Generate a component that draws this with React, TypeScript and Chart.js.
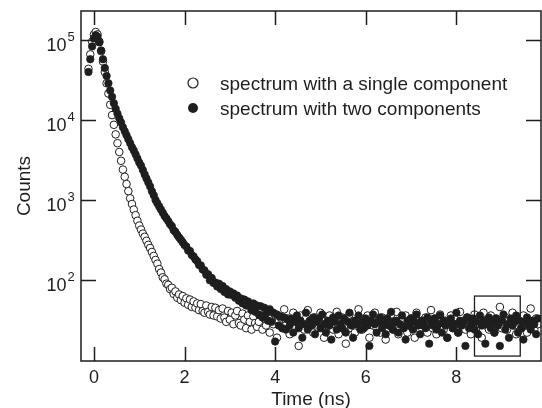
import React, { useEffect, useRef } from "react";
import { Chart, registerables } from "chart.js";

Chart.register(...registerables);

// ---- data ----
const TIME_NS = [
  -0.12, -0.08, -0.04, 0, 0.04, 0.08, 0.12, 0.16, 0.2, 0.24,
  0.28, 0.32, 0.36, 0.4, 0.44, 0.48, 0.52, 0.56, 0.6, 0.64,
  0.68, 0.72, 0.76, 0.8, 0.84, 0.88, 0.92, 0.96, 1, 1.04,
  1.08, 1.12, 1.16, 1.2, 1.24, 1.28, 1.32, 1.36, 1.4, 1.44,
  1.48, 1.52, 1.56, 1.6, 1.64, 1.68, 1.72, 1.76, 1.8, 1.84,
  1.88, 1.92, 1.96, 2, 2.04, 2.08, 2.12, 2.16, 2.2, 2.24,
  2.28, 2.32, 2.36, 2.4, 2.44, 2.48, 2.52, 2.56, 2.6, 2.64,
  2.68, 2.72, 2.76, 2.8, 2.84, 2.88, 2.92, 2.96, 3, 3.04,
  3.08, 3.12, 3.16, 3.2, 3.24, 3.28, 3.32, 3.36, 3.4, 3.44,
  3.48, 3.52, 3.56, 3.6, 3.64, 3.68, 3.72, 3.76, 3.8, 3.84,
  3.88, 3.92, 3.96, 4, 4.04, 4.08, 4.12, 4.16, 4.2, 4.24,
  4.28, 4.32, 4.36, 4.4, 4.44, 4.48, 4.52, 4.56, 4.6, 4.64,
  4.68, 4.72, 4.76, 4.8, 4.84, 4.88, 4.92, 4.96, 5, 5.04,
  5.08, 5.12, 5.16, 5.2, 5.24, 5.28, 5.32, 5.36, 5.4, 5.44,
  5.48, 5.52, 5.56, 5.6, 5.64, 5.68, 5.72, 5.76, 5.8, 5.84,
  5.88, 5.92, 5.96, 6, 6.04, 6.08, 6.12, 6.16, 6.2, 6.24,
  6.28, 6.32, 6.36, 6.4, 6.44, 6.48, 6.52, 6.56, 6.6, 6.64,
  6.68, 6.72, 6.76, 6.8, 6.84, 6.88, 6.92, 6.96, 7, 7.04,
  7.08, 7.12, 7.16, 7.2, 7.24, 7.28, 7.32, 7.36, 7.4, 7.44,
  7.48, 7.52, 7.56, 7.6, 7.64, 7.68, 7.72, 7.76, 7.8, 7.84,
  7.88, 7.92, 7.96, 8, 8.04, 8.08, 8.12, 8.16, 8.2, 8.24,
  8.28, 8.32, 8.36, 8.4, 8.44, 8.48, 8.52, 8.56, 8.6, 8.64,
  8.68, 8.72, 8.76, 8.8, 8.84, 8.88, 8.92, 8.96, 9, 9.04,
  9.08, 9.12, 9.16, 9.2, 9.24, 9.28, 9.32, 9.36, 9.4, 9.44,
  9.48, 9.52, 9.56, 9.6, 9.64, 9.68, 9.72, 9.76, 9.8,
];

const SINGLE_COMPONENT = [
  43600, 66100, 95500, 117500, 125900, 117500, 95500, 72400, 53700, 39800,
  28800, 21400, 15500, 11500, 8710, 6610, 5130, 3980, 3090, 2400,
  1950, 1585, 1290, 1050, 891, 759, 646, 550, 479, 427,
  380, 347, 309, 275, 251, 224, 200, 178, 160, 137,
  124, 108, 102, 90, 87, 77, 80, 67, 72, 60,
  66, 56, 63, 52, 59, 49, 57, 46, 54, 45,
  51, 42, 50, 41, 39, 48, 40, 37, 46, 36,
  45, 35, 42, 33, 44, 34, 30, 41, 32, 39,
  28, 36, 41, 29, 27, 38, 32, 25, 36, 30,
  24, 35, 29, 26,
  30, 36, 24, 33, 27, 40, 22, 31, 28, 37,
  19, 30, 34, 25, 43, 27, 33, 21, 31, 39,
  25, 30, 15, 36, 28, 24, 33, 42, 27, 31,
  22, 34, 28, 25, 39, 30, 19, 33, 27, 36,
  31, 24, 28, 40, 21, 30, 34, 27, 16, 33,
  37, 25, 30, 22, 31, 43, 27, 24, 33, 28,
  36, 19, 30, 27, 39, 25, 31, 22, 34, 28,
  18, 33, 27, 37, 24, 30, 40, 21, 28, 31,
  25, 36, 22, 30, 33, 27, 19, 39, 28, 24,
  31, 27, 34, 22, 30, 42, 25, 33, 21, 28,
  37, 27, 24, 31, 19, 30, 36, 25, 33, 28,
  22, 40, 27, 31, 24, 34, 28, 21, 30, 37,
  25, 33, 28, 19, 39, 27, 31, 24, 36, 30,
  22, 33, 27, 46, 25, 30, 34, 24, 31, 28,
  39, 27, 21, 33, 30, 25, 36, 28, 22, 31,
  44, 27, 24, 33, 28,
];

const TWO_COMPONENTS = [
  39800, 57500, 83200, 104700, 114800, 109600, 93300, 74100, 57500, 44700,
  35500, 28800, 23400, 19500, 16200, 13800, 12000, 10500, 9330, 8130,
  7240, 6460, 5750, 5130, 4570, 4170, 3720, 3310, 2950, 2690,
  2370, 2090, 1860, 1660, 1480, 1290, 1150, 1000, 912, 832,
  759, 692, 631, 589, 545, 498, 470, 418, 398, 366,
  340, 318, 296, 273, 262, 233, 231, 205, 197, 181,
  172, 154, 152, 135, 132, 116, 118, 99, 106, 92,
  93, 83, 90, 77, 84, 71, 77, 66, 72, 65,
  68, 60, 64, 55, 59, 51, 57, 48, 54, 47,
  42, 51, 40, 48, 37, 47, 34, 45, 38, 31,
  43, 30, 39, 17, 37, 27, 35, 25, 34, 24,
  32,
  27, 33, 22, 30, 36, 25, 31, 19, 28, 39,
  24, 31, 27, 34, 21, 30, 33, 25, 37, 28,
  22, 31, 27, 18, 34, 30, 24, 36, 28, 25,
  33, 22, 30, 39, 27, 19, 31, 28, 36, 24,
  30, 25, 33, 27, 15, 31, 37, 28, 22, 30,
  34, 25, 28, 21, 33, 27, 40, 24, 30, 31,
  22, 28, 36, 25, 18, 31, 27, 33, 24, 30,
  37, 27, 21, 31, 28, 25, 34, 16, 30, 27,
  33, 24, 28, 36, 22, 31, 27, 19, 30, 33,
  25, 28, 39, 22, 31, 27, 30, 15, 34, 25,
  28, 33, 24, 30, 21, 36, 27, 31, 16, 28,
  34, 25, 30, 22, 33, 27, 15, 31, 37, 24,
  28, 19, 33, 27, 30, 36, 22, 31, 25, 18,
  30, 34, 27, 24, 31, 28, 21, 33,
];

const SERIES_LABELS = [
  "spectrum with a single component",
  "spectrum with two components",
];
const X_TICKS = [0, 2, 4, 6, 8];
const Y_TICK_EXPONENTS = [2, 3, 4, 5];
const X_RANGE = [-0.285, 9.868];
const Y_RANGE = [9.716, 230400];
const BOX_X = [8.4, 9.41];
const BOX_Y = [11.2, 63];

// ---- styling ----
const INK = "#1e1e1e";
const FONT = '"Liberation Sans", Arial, Helvetica, sans-serif';

const toPoints = (ys: number[]) =>
  TIME_NS.slice(0, ys.length).map((t, i) => ({ x: t, y: ys[i] }));

const decorPlugin = {
  id: "decor",
  afterDraw(chart: any) {
    const { ctx, chartArea: a, scales } = chart;
    const xs = scales.x;
    const ys = scales.y;
    ctx.save();
    // frame
    ctx.strokeStyle = INK;
    ctx.lineWidth = 1.5;
    ctx.strokeRect(a.left, a.top, a.right - a.left, a.bottom - a.top);
    // inward ticks, mirrored
    ctx.beginPath();
    for (const v of X_TICKS) {
      const px = Math.round(xs.getPixelForValue(v)) + 0.5;
      ctx.moveTo(px, a.bottom);
      ctx.lineTo(px, a.bottom - 14);
      ctx.moveTo(px, a.top);
      ctx.lineTo(px, a.top + 14);
    }
    for (const e of Y_TICK_EXPONENTS) {
      const py = Math.round(ys.getPixelForValue(Math.pow(10, e))) + 0.5;
      ctx.moveTo(a.left, py);
      ctx.lineTo(a.left + 15, py);
      ctx.moveTo(a.right, py);
      ctx.lineTo(a.right - 15, py);
    }
    ctx.stroke();

    // y tick labels with superscript exponents
    ctx.fillStyle = INK;
    ctx.textBaseline = "alphabetic";
    for (const e of Y_TICK_EXPONENTS) {
      const py = ys.getPixelForValue(Math.pow(10, e));
      ctx.font = `18px ${FONT}`;
      ctx.textAlign = "right";
      ctx.fillText("10", a.left - 14.5, py + 11);
      ctx.font = `13px ${FONT}`;
      ctx.textAlign = "left";
      ctx.fillText(String(e), a.left - 13.5, py + 1.5);
    }

    // inset box
    const bx0 = xs.getPixelForValue(BOX_X[0]);
    const bx1 = xs.getPixelForValue(BOX_X[1]);
    const by0 = ys.getPixelForValue(BOX_Y[1]);
    const by1 = ys.getPixelForValue(BOX_Y[0]);
    ctx.lineWidth = 1.3;
    ctx.strokeRect(bx0, by0, bx1 - bx0, by1 - by0);

    // legend
    const lx = a.left + 112;
    const ly = a.top + 72;
    const gap = 25;
    ctx.font = `19px ${FONT}`;
    ctx.textAlign = "left";
    for (let i = 0; i < SERIES_LABELS.length; i++) {
      const cy = ly + i * gap;
      ctx.beginPath();
      ctx.arc(lx, cy, 5, 0, Math.PI * 2);
      if (i === 0) {
        ctx.fillStyle = "#ffffff";
        ctx.fill();
        ctx.lineWidth = 1.2;
        ctx.strokeStyle = INK;
        ctx.stroke();
      } else {
        ctx.fillStyle = INK;
        ctx.fill();
      }
      ctx.fillStyle = INK;
      ctx.fillText(SERIES_LABELS[i], lx + 27, cy + 7);
    }
    ctx.restore();
  },
};

export default function App() {
  const canvasRef = useRef<HTMLCanvasElement | null>(null);

  useEffect(() => {
    const canvas = canvasRef.current;
    if (!canvas) return;
    const chart = new Chart(canvas, {
      type: "scatter",
      data: {
        datasets: [
          {
            label: SERIES_LABELS[0],
            data: toPoints(SINGLE_COMPONENT),
            pointRadius: 3.8,
            pointBackgroundColor: "#ffffff",
            pointBorderColor: INK,
            pointBorderWidth: 1,
            order: 1,
          },
          {
            label: SERIES_LABELS[1],
            data: toPoints(TWO_COMPONENTS),
            pointRadius: 3.7,
            pointBackgroundColor: INK,
            pointBorderColor: INK,
            pointBorderWidth: 0.8,
            order: 0,
          },
        ],
      },
      options: {
        responsive: false,
        animation: false,
        devicePixelRatio: 1,
        layout: { padding: { top: 11, right: 2, left: 0, bottom: 0 } },
        plugins: {
          legend: { display: false },
          tooltip: { enabled: false },
        },
        scales: {
          x: {
            type: "linear",
            min: X_RANGE[0],
            max: X_RANGE[1],
            grid: { display: false, drawTicks: false },
            border: { display: false },
            afterBuildTicks: (s: any) => {
              s.ticks = X_TICKS.map((v) => ({ value: v }));
            },
            afterFit: (s: any) => {
              s.height = 47;
            },
            ticks: {
              color: INK,
              font: { family: FONT, size: 18 },
              padding: 6,
              maxRotation: 0,
              autoSkip: false,
              callback: (v: any) => String(v),
            },
            title: {
              display: true,
              text: "Time (ns)",
              color: INK,
              font: { family: FONT, size: 19, lineHeight: 0.9 },
              padding: { top: 0, bottom: 0 },
            },
          },
          y: {
            type: "logarithmic",
            min: Y_RANGE[0],
            max: Y_RANGE[1],
            grid: { display: false, drawTicks: false },
            border: { display: false },
            ticks: { display: false },
            afterFit: (s: any) => {
              s.width = 81;
            },
            title: {
              display: true,
              text: "Counts",
              color: INK,
              font: { family: FONT, size: 19, lineHeight: 0.9 },
              padding: { top: 16.5, bottom: 0 },
            },
          },
        },
      },
      plugins: [decorPlugin],
    });
    return () => chart.destroy();
  }, []);

  return (
    <div
      style={{
        position: "absolute",
        left: 0,
        top: 0,
        width: 542,
        height: 408,
        overflow: "hidden",
        background: "#ffffff",
      }}
    >
      <canvas ref={canvasRef} width={546} height={408} style={{ display: "block" }} />
    </div>
  );
}
